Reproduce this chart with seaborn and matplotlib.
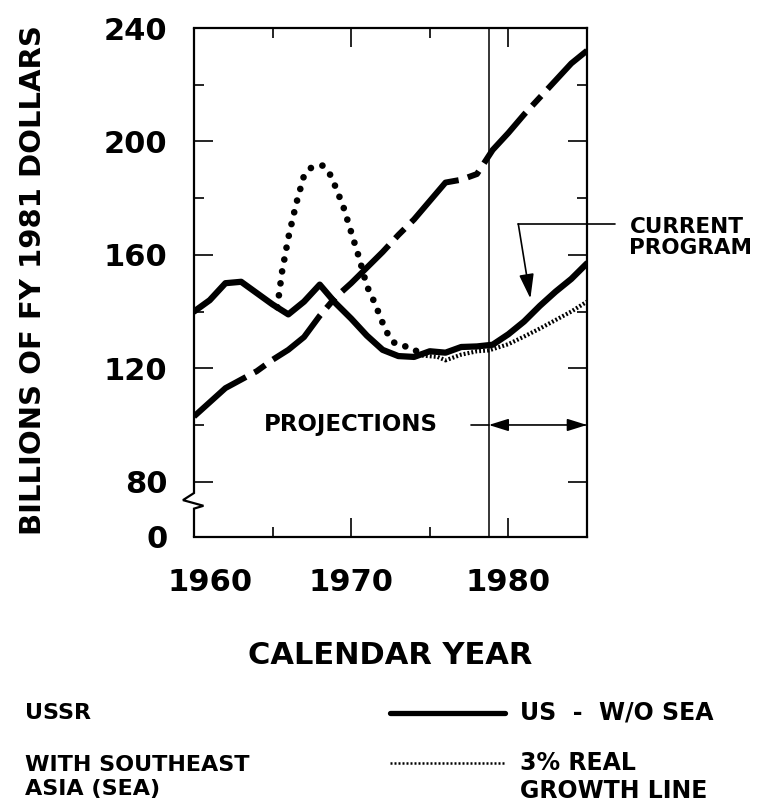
import matplotlib
matplotlib.use("Agg")
import matplotlib.pyplot as plt
import matplotlib.transforms as mtransforms
from matplotlib.lines import Line2D
from matplotlib.ticker import FixedLocator, FixedFormatter
import seaborn as sns

# Defense spending, billions of FY 1981 dollars
years = list(range(1960, 1986))
ussr = [103, 108, 113, 116, 119, 123, 126.5, 131, 138.5, 145, 150, 155.5, 161,
        167, 172.5, 179, 185.5, 186.5, 188.5, 197, 203, 209.5, 215.5, 221.5,
        227.5, 232]
us_wo_sea = [140, 144, 150, 150.5, 146.5, 142.5, 139, 143.5, 149.5, 143, 137.5,
             131.5, 126.5, 124.3, 124, 126, 125.5, 127.5, 127.7, 128.3, 132,
             136.5, 142, 147, 151.5, 157]

sea_years = [1965.3, 1965.6, 1966.0, 1966.5, 1967.0, 1967.5, 1968.2, 1968.7,
             1969.0, 1969.5, 1970.0, 1970.5, 1971.0, 1971.5, 1972.0, 1972.5,
             1973.0, 1973.8, 1974.4]
with_sea = [141.5, 154, 166, 178, 188, 191, 191.5, 188, 184, 177, 168, 159,
            149, 143, 136, 130, 128, 127.5, 125]

growth_years = [1974.5, 1975.5, 1976, 1977, 1978, 1978.75, 1980, 1981, 1982,
                1983, 1984, 1985]
growth_3pct = [124.5, 124, 122.8, 124.8, 126, 126.3, 128.5, 131.2, 134, 137,
               140, 143.5]

projection_start = 1978.75
y_major = [60.5, 80, 120, 160, 200, 240]
y_major_labels = ["0", "80", "120", "160", "200", "240"]
y_minor = [100, 140, 180, 220]
x_major = [1960, 1970, 1980]
x_minor = [1965, 1975, 1985]

sns.set_style("ticks")
plt.rcParams["font.family"] = ["DejaVu Sans"]
plt.rcParams["font.weight"] = "bold"
for key in ["text.color", "axes.labelcolor", "xtick.color", "ytick.color",
            "axes.edgecolor"]:
    plt.rcParams[key] = "black"

fig = plt.figure(figsize=(7.68, 8.07), dpi=100)
ax = fig.add_axes([0.2526, 0.3346, 0.5117, 0.6307])

sns.lineplot(x=years, y=ussr, ax=ax, color="black", lw=4.3,
             linestyle=(0, (11, 1.6, 2.2, 1.6)), errorbar=None)
sns.lineplot(x=years, y=us_wo_sea, ax=ax, color="black", lw=4.5,
             errorbar=None, solid_joinstyle="round")
sns.lineplot(x=sea_years, y=with_sea, ax=ax, color="black", lw=4.8,
             linestyle=(0, (0.01, 1.8)), dash_capstyle="round", errorbar=None)
sns.lineplot(x=growth_years, y=growth_3pct, ax=ax, color="black", lw=3.0,
             linestyle=(0, (0.45, 0.5)), errorbar=None)

ax.axvline(projection_start, color="black", lw=1.1)

ax.set_xlim(1960, 1985)
ax.set_ylim(60.5, 240)
ax.xaxis.set_major_locator(FixedLocator(x_major))
ax.xaxis.set_minor_locator(FixedLocator(x_minor))
ax.yaxis.set_major_locator(FixedLocator(y_major))
ax.yaxis.set_major_formatter(FixedFormatter(y_major_labels))
ax.yaxis.set_minor_locator(FixedLocator(y_minor))
ax.tick_params(which="both", direction="in", top=True, right=True,
               width=1.2, color="black", labelcolor="black")
ax.tick_params(which="major", length=13.5)
ax.tick_params(which="minor", length=7)
ax.tick_params(axis="y", which="major", pad=19, labelsize=22)
ax.tick_params(axis="x", which="major", pad=22, labelsize=22)
for lab in ax.get_xticklabels():
    if lab.get_text() == "1960":
        lab.set_transform(lab.get_transform() +
                          mtransforms.ScaledTranslation(0.16, 0, fig.dpi_scale_trans))
ax.set_xlabel("")
ax.set_ylabel("")

for side in ["top", "right", "bottom"]:
    ax.spines[side].set_linewidth(1.6)
    ax.spines[side].set_color("black")
ax.spines["left"].set_visible(False)
# left axis with the break mark
ax.plot([1960, 1960, 1959.3, 1960.6, 1960, 1960],
        [240, 76, 73.5, 71.5, 70.5, 60.5],
        color="black", lw=1.6, clip_on=False, solid_joinstyle="miter")

# projections marker
ax.text(1970, 100, "PROJECTIONS", ha="center", va="center", fontsize=16.5)
ax.plot([1977.6, projection_start], [100, 100], color="black", lw=1.2)
ax.annotate("", xy=(1985, 100), xytext=(projection_start, 100),
            arrowprops=dict(arrowstyle="<|-|>,head_length=0.8,head_width=0.25",
                            color="black", lw=1.2, shrinkA=0, shrinkB=0,
                            mutation_scale=15))

# current program callout
ax.plot([1986.8, 1980.63], [170.9, 170.9], color="black", lw=1.2, clip_on=False)
ax.annotate("", xy=(1981.4, 144.6), xytext=(1980.63, 170.9),
            arrowprops=dict(arrowstyle="-|>,head_length=1.0,head_width=0.3",
                            color="black", lw=1.2, shrinkA=0, shrinkB=0,
                            mutation_scale=15), annotation_clip=False)
ax.text(1987.7, 166, "CURRENT\nPROGRAM", ha="left", va="center",
        fontsize=15.5, linespacing=1.05, clip_on=False)

fig.text(33 / 768, 1 - 280 / 807, "BILLIONS OF FY 1981 DOLLARS",
         rotation=90, ha="center", va="center", fontsize=21)
fig.text(390 / 768, 1 - 655 / 807, "CALENDAR YEAR",
         ha="center", va="center", fontsize=22)

# legend
fig.text(25 / 768, 1 - 713 / 807, "USSR", ha="left", va="center", fontsize=16)
fig.text(25 / 768, 1 - 777 / 807, "WITH SOUTHEAST\nASIA (SEA)", ha="left",
         va="center", fontsize=16, linespacing=1.2)
fig.add_artist(Line2D([390 / 768, 505 / 768], [1 - 713 / 807] * 2,
                      transform=fig.transFigure, color="black", lw=3.8))
fig.add_artist(Line2D([390 / 768, 505 / 768], [1 - 763 / 807] * 2,
                      transform=fig.transFigure, color="black", lw=1.8,
                      linestyle=(0, (0.8, 0.8))))
fig.text(520 / 768, 1 - 713 / 807, "US  -  W/O SEA", ha="left", va="center",
         fontsize=17)
fig.text(520 / 768, 1 - 777 / 807, "3% REAL\nGROWTH LINE", ha="left",
         va="center", fontsize=17, linespacing=1.2)

fig.savefig("out.png", dpi=100)
